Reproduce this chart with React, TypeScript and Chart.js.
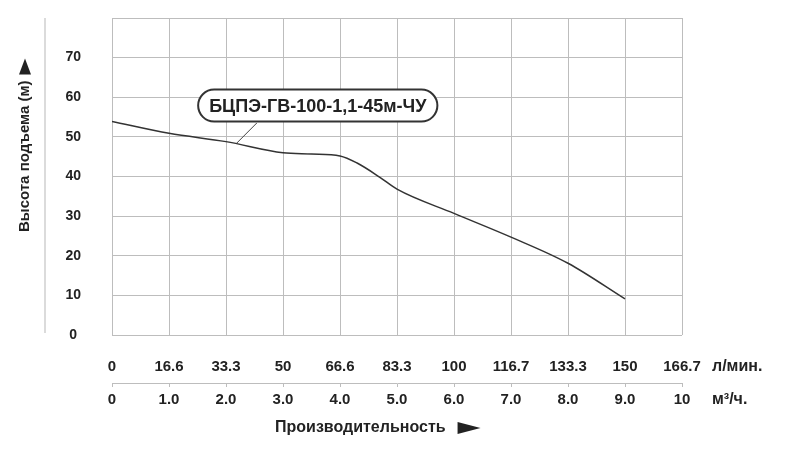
import { useEffect, useRef } from "react"
import { Chart, registerables } from "chart.js"
import type { Plugin } from "chart.js"

Chart.register(...registerables)

// flow (m³/h) and head (m)
const flowM3h = [0, 1, 2, 3, 3.5, 4, 4.3, 4.7, 5, 6, 7, 8, 9]
const headM = [53.9, 50.9, 48.8, 46.0, 45.7, 45.2, 43.4, 39.8, 36.8, 30.7, 24.7, 18.1, 9.1]

// tick labels of the two flow rows
const m3hTicks = ["0", "1.0", "2.0", "3.0", "4.0", "5.0", "6.0", "7.0", "8.0", "9.0", "10"]
const lminTicks = ["0", "16.6", "33.3", "50", "66.6", "83.3", "100", "116.7", "133.3", "150", "166.7"]

const pumpName = "БЦПЭ-ГВ-100-1,1-45м-ЧУ"
const yTitle = "Высота подъема (м)"
const xTitle = "Производительность"
const lminUnit = "л/мин."
const m3hUnit = "м³/ч."

// label box centre and its leader line, in data units
const boxAt = [3.61, 57.9]
const leaderFrom = [2.54, 53.5]
const leaderTo = [2.19, 48.45]

const FONT = "'Liberation Sans', Arial, sans-serif"
const TEXT = "#222"
const GRID = "#bdbdbd"

const decor: Plugin<"line"> = {
  id: "decor",
  afterDraw(chart) {
    const { ctx, chartArea } = chart
    const xs = chart.scales.x
    const ys = chart.scales.y
    ctx.save()

    // thin frame line left of the y labels
    ctx.strokeStyle = "#cfcfcf"
    ctx.lineWidth = 1.5
    ctx.beginPath()
    ctx.moveTo(45, chartArea.top)
    ctx.lineTo(45, chartArea.bottom - 2)
    ctx.stroke()

    ctx.fillStyle = TEXT
    ctx.font = `bold 15px ${FONT}`
    ctx.textBaseline = "middle"

    // y title, rotated, with an arrow pointing up
    ctx.save()
    ctx.translate(25, 232)
    ctx.rotate(-Math.PI / 2)
    ctx.textAlign = "left"
    ctx.fillText(yTitle, 0, 0)
    const tw = ctx.measureText(yTitle).width
    ctx.beginPath()
    ctx.moveTo(tw + 6, -6)
    ctx.lineTo(tw + 22, 0)
    ctx.lineTo(tw + 6, 6)
    ctx.closePath()
    ctx.fill()
    ctx.restore()

    // x title with an arrow pointing right
    ctx.font = `bold 16px ${FONT}`
    ctx.textAlign = "left"
    ctx.fillText(xTitle, 275, 428)
    const xw = ctx.measureText(xTitle).width
    ctx.beginPath()
    ctx.moveTo(275 + xw + 12, 422)
    ctx.lineTo(275 + xw + 35, 428)
    ctx.lineTo(275 + xw + 12, 434)
    ctx.closePath()
    ctx.fill()

    // units at the right end of the flow rows
    ctx.fillText(lminUnit, chartArea.right + 30, 367)
    ctx.fillText(m3hUnit, chartArea.right + 30, 400)

    // pump label with leader
    ctx.strokeStyle = "#444"
    ctx.lineWidth = 1
    ctx.beginPath()
    ctx.moveTo(xs.getPixelForValue(leaderFrom[0]), ys.getPixelForValue(leaderFrom[1]))
    ctx.lineTo(xs.getPixelForValue(leaderTo[0]), ys.getPixelForValue(leaderTo[1]))
    ctx.stroke()

    ctx.font = `bold 18px ${FONT}`
    const bw = ctx.measureText(pumpName).width + 22
    const bh = 32
    const cx = xs.getPixelForValue(boxAt[0])
    const cy = ys.getPixelForValue(boxAt[1])
    ctx.beginPath()
    ctx.roundRect(cx - bw / 2, cy - bh / 2, bw, bh, bh / 2)
    ctx.fillStyle = "#fff"
    ctx.fill()
    ctx.strokeStyle = "#333"
    ctx.lineWidth = 2
    ctx.stroke()
    ctx.fillStyle = TEXT
    ctx.textAlign = "center"
    ctx.fillText(pumpName, cx, cy + 1)

    ctx.restore()
  },
}

export default function App() {
  const canvasRef = useRef<HTMLCanvasElement>(null)
  const chartRef = useRef<Chart<"line"> | null>(null)

  useEffect(() => {
    if (!canvasRef.current) return
    if (chartRef.current) chartRef.current.destroy()

    chartRef.current = new Chart(canvasRef.current, {
      type: "line",
      data: {
        datasets: [
          {
            label: pumpName,
            data: flowM3h.map((q, i) => ({ x: q, y: headM[i] })),
            borderColor: "#333",
            borderWidth: 1.5,
            pointRadius: 0,
            cubicInterpolationMode: "monotone",
            xAxisID: "x",
            yAxisID: "y",
          },
        ],
      },
      options: {
        animation: false,
        responsive: true,
        maintainAspectRatio: false,
        layout: { padding: { left: 0, right: 121, top: 18, bottom: 42 } },
        plugins: {
          legend: { display: false },
          tooltip: { enabled: false },
        },
        scales: {
          y: {
            min: 0,
            max: 80,
            ticks: {
              stepSize: 10,
              padding: 0,
              crossAlign: "center",
              color: TEXT,
              font: { family: FONT, size: 14, weight: "bold" },
              callback: (v) => (Number(v) >= 80 ? "" : String(v)),
            },
            // invisible tick marks push the labels away from the plot
            grid: { color: GRID, drawTicks: true, tickLength: 31, tickColor: "rgba(0,0,0,0)" },
            border: { display: false },
            afterFit: (s) => {
              s.width = 112
            },
          },
          x2: {
            type: "linear",
            position: "bottom",
            weight: 0,
            min: 0,
            max: 10,
            ticks: {
              stepSize: 1,
              padding: 23,
              color: TEXT,
              font: { family: FONT, size: 15, weight: "bold" },
              maxRotation: 0,
              autoSkip: false,
              callback: (_v, i) => lminTicks[i],
            },
            grid: { color: GRID, drawTicks: false },
            border: { display: false },
            afterFit: (s) => {
              s.height = 48
            },
          },
          x: {
            type: "linear",
            position: "bottom",
            weight: 1,
            min: 0,
            max: 10,
            ticks: {
              stepSize: 1,
              padding: 4,
              color: TEXT,
              font: { family: FONT, size: 15, weight: "bold" },
              maxRotation: 0,
              autoSkip: false,
              callback: (_v, i) => m3hTicks[i],
            },
            grid: { color: GRID, drawOnChartArea: false, tickLength: 4 },
            border: { display: true, color: GRID },
            afterFit: (s) => {
              s.height = 40
            },
          },
        },
      },
      plugins: [decor],
    })

    return () => {
      if (chartRef.current) {
        chartRef.current.destroy()
        chartRef.current = null
      }
    }
  }, [])

  return (
    <div style={{ position: "absolute", left: 0, top: 0, width: 803, height: 465, background: "#fff" }}>
      <canvas ref={canvasRef}></canvas>
    </div>
  )
}
